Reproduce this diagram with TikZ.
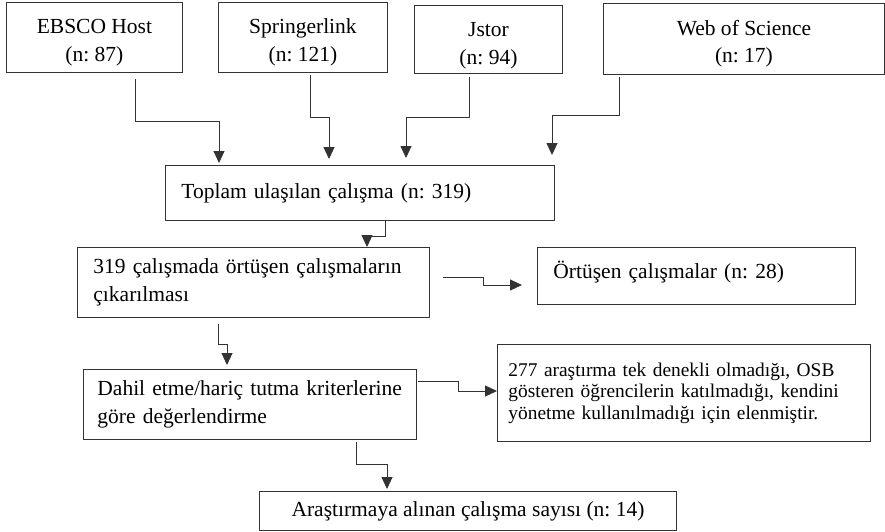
\documentclass[tikz,border=0pt]{standalone}
\usepackage{fontspec}
\setmainfont{Liberation Serif}
\usetikzlibrary{arrows.meta}
\frenchspacing
\newcommand\boxfont{\fontsize{21.5}{27.5}\selectfont}
\newcommand\notefont{\fontsize{19.4}{21.5}\selectfont}
\tikzset{
	box/.style={draw=black!80,line width=.9pt,anchor=north west,inner ysep=0pt,font=\boxfont},
	arr/.style={draw=black!80,line width=.9pt,-{Triangle[width=11pt,length=12pt]}}
}
\begin{document}
	\begin{tikzpicture}[x=1pt,y=-1pt]
		\useasboundingbox (0,0) rectangle (885,531);
		\node[box,minimum width=176,minimum height=70,align=center](ebsco) at (6,2) {\rule{0pt}{25pt}EBSCO Host\\(n: 87)};
		\node[box,minimum width=169,minimum height=70,align=center](springer) at (218,2) {\rule{0pt}{25pt}Springerlink\\(n: 121)};
		\node[box,minimum width=148,minimum height=68,align=center](jstor) at (414,5) {\rule{0pt}{27pt}Jstor\\(n: 94)};
		\node[box,minimum width=281,minimum height=71,align=center](wos) at (603,3) {\rule{0pt}{25pt}Web of Science\\(n: 17)};
		\node[box,minimum height=55,inner xsep=16pt,text width=357pt,align=left](toplam) at (165,165) {Toplam ulaşılan çalışma (n: 319)};
		\node[box,minimum height=70,inner xsep=16pt,text width=320pt,align=left](ortak) at (77,247) {319 çalışmada örtüşen çalışmaların\\çıkarılması};
		\node[box,minimum height=57,inner xsep=16pt,text width=286pt,align=left,text depth=12pt](ortusen) at (537,247) {Örtüşen çalışmalar (n: 28)};
		\node[box,minimum height=70,inner xsep=14pt,text width=305pt,align=left](dahil) at (83,369) {Dahil etme/hariç tutma kriterlerine\\göre değerlendirme};
		\node[box,minimum height=97,inner xsep=11pt,text width=351pt,align=left,font=\notefont](elenen) at (497,344) {277 araştırma tek denekli olmadığı, OSB\\gösteren öğrencilerin katılmadığı, kendini\\yönetme kullanılmadığı için elenmiştir.};
		\node[box,minimum width=417,minimum height=39,align=center](sonuc) at (259,491) {Araştırmaya alınan çalışma sayısı (n: 14)};
		\draw[arr]([shift={(41,6)}]ebsco.south)--++(0,43)-|([shift={(54,-2)}]toplam.north west);
		\draw[arr]([shift={(7.5,2)}]springer.south)--++(0,43)-|([shift={(164,-6)}]toplam.north west);
		\draw[arr]([shift={(-19,3)}]jstor.south)--++(0,41)-|([shift={(241,-7)}]toplam.north west);
		\draw[arr]([shift={(-124.5,2)}]wos.south)--++(0,39)-|([shift={(387,-10)}]toplam.north west);
		\draw[arr]([shift={(25.5,0)}]toplam.south)--++(0,16)-|([shift={(290,0)}]ortak.north west);
		\draw[arr]([shift={(13,-5)}]ortak.east)--++(41,0)|-([shift={(-15,38)}]ortusen.north west);
		\draw[arr]([shift={(-35,6)}]ortak.south)--++(0,21)-|([shift={(144,-4)}]dahil.north west);
		\draw[arr]([shift={(1,12)}]dahil.north east)--++(41,0)|-([shift={(0,47)}]elenen.north west);
		\draw[arr]([shift={(106.5,2)}]dahil.south)--++(0,23)-|([shift={(128,-2)}]sonuc.north west);
	\end{tikzpicture}
\end{document}
